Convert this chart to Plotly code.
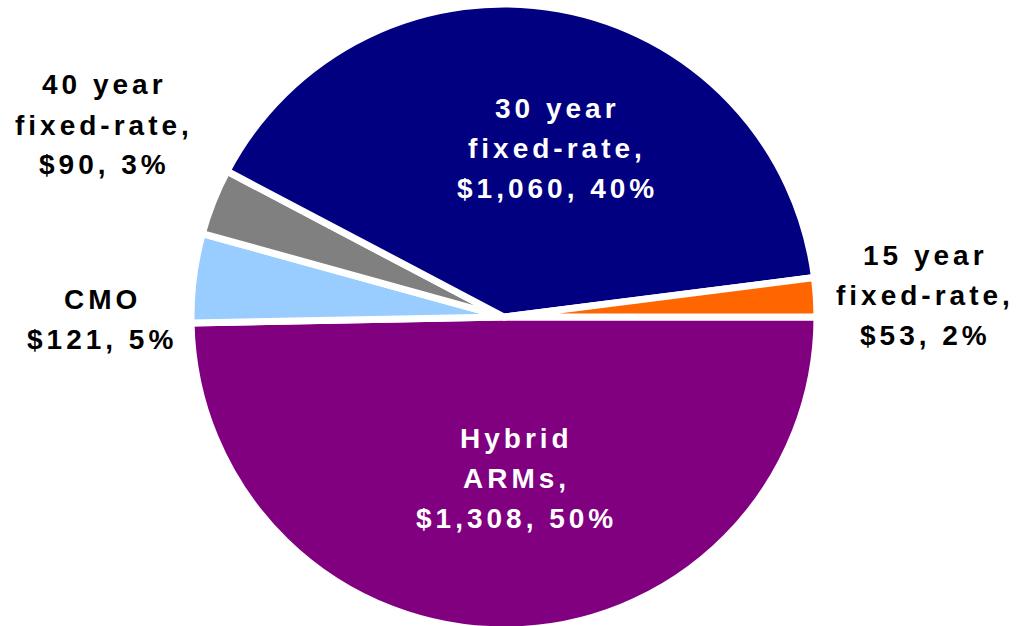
import plotly.graph_objects as go

# mortgage product mix, $ billions
segments = ["Hybrid ARMs", "CMO", "40 year fixed-rate", "30 year fixed-rate", "15 year fixed-rate"]
amounts = [1308, 121, 90, 1060, 53]
shares = [50, 5, 3, 40, 2]
colors = ["#800080", "#99CCFF", "#808080", "#000080", "#FF6600"]
name_lines = [["Hybrid", "ARMs,"], ["CMO"], ["40 year", "fixed-rate,"], ["30 year", "fixed-rate,"], ["15 year", "fixed-rate,"]]

W, H = 1023, 630
MT, MB = 4, 0

fig = go.Figure(go.Pie(
    labels=segments,
    values=amounts,
    sort=False,
    direction="clockwise",
    rotation=90,
    marker=dict(colors=colors, line=dict(color="white", width=7)),
    textinfo="none",
    hoverinfo="label+value+percent",
    domain=dict(x=[191 / W, 817 / W], y=[0, 1]),
    showlegend=False,
))

# label placement: (centre x px, first line y px, text colour)
label_pos = [(516, 438, "white"), (102, 299, "black"), (104, 85, "black"),
             (557, 108, "white"), (925, 255, "black")]

def to_paper(x, y):
    return x / W, (H - MB - y) / (H - MT - MB)

annotations = []
for lines, amt, pct, (cx, cy, col) in zip(name_lines, amounts, shares, label_pos):
    for i, line in enumerate(lines + ["$" + f"{amt:,}" + ", " + f"{pct}%"]):
        xp, yp = to_paper(cx, cy + 40 * i)
        annotations.append(dict(
            x=xp, y=yp, xref="paper", yref="paper",
            text='<span style="letter-spacing:4px">' + line + "</span>",
            showarrow=False, xanchor="center", yanchor="middle",
            font=dict(family="Liberation Sans", size=28, color=col, weight="bold"),
        ))

fig.update_layout(
    width=W, height=H,
    margin=dict(l=0, r=0, t=MT, b=MB),
    paper_bgcolor="white",
    plot_bgcolor="white",
    annotations=annotations,
)

fig.write_html("out.html", config={"displayModeBar": False},
               post_script="document.body.style.margin='0';document.body.style.overflow='hidden';")
